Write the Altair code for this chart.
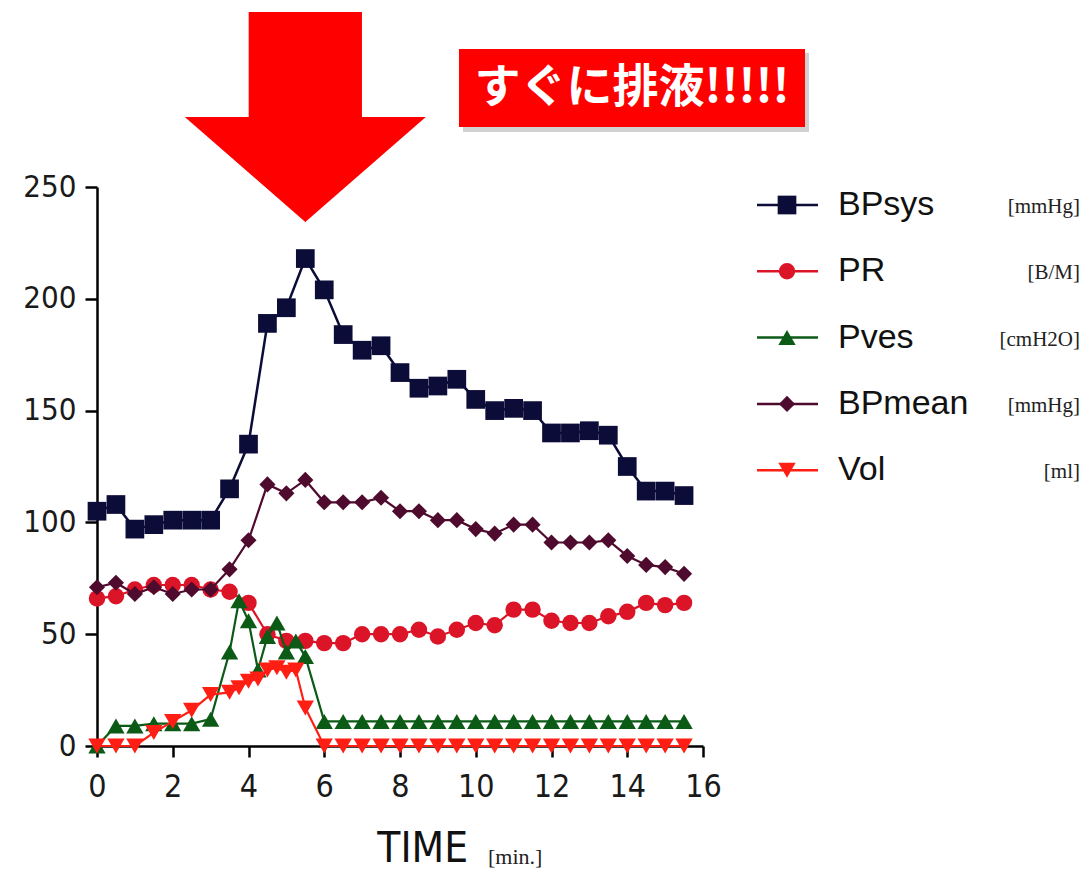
import altair as alt
import pandas as pd

# ---------------- data ----------------
series_names = ["BPsys", "PR", "Pves", "BPmean", "Vol"]
series_units = ["[mmHg]", "[B/M]", "[cmH2O]", "[mmHg]", "[ml]"]

t_half = [0, 0.5, 1, 1.5, 2, 2.5, 3, 3.5, 4, 4.5, 5, 5.5, 6, 6.5, 7, 7.5,
          8, 8.5, 9, 9.5, 10, 10.5, 11, 11.5, 12, 12.5, 13, 13.5, 14, 14.5, 15, 15.5]
t_fine = [0, 0.5, 1, 1.5, 2, 2.5, 3, 3.5, 3.75, 4, 4.25, 4.5, 4.75, 5, 5.25, 5.5,
          6, 6.5, 7, 7.5, 8, 8.5, 9, 9.5, 10, 10.5, 11, 11.5, 12, 12.5, 13, 13.5,
          14, 14.5, 15, 15.5]

bpsys = [105, 108, 97, 99, 101, 101, 101, 115, 135, 189, 196, 218, 204, 184, 177, 179,
         167, 160, 161, 164, 155, 150, 151, 150, 140, 140, 141, 139, 125, 114, 114, 112]
pr = [66, 67, 70, 72, 72, 72, 70, 69, 64, 50, 47, 47, 46, 46, 50, 50,
      50, 52, 49, 52, 55, 54, 61, 61, 56, 55, 55, 58, 60, 64, 63, 64]
pves = [0, 9, 9, 10, 10, 10, 12, 42, 65, 56, 34, 49, 55, 42, 47, 40,
        11, 11, 11, 11, 11, 11, 11, 11, 11, 11, 11, 11, 11, 11, 11, 11,
        11, 11, 11, 11]
bpmean = [71, 73, 68, 71, 68, 70, 70, 79, 92, 117, 113, 119, 109, 109, 109, 111,
          105, 105, 101, 101, 97, 95, 99, 99, 91, 91, 91, 92, 85, 81, 80, 77]
vol = [0, 0, 0, 6, 11, 16, 23, 24, 26, 29, 30, 34, 35, 33, 34, 17,
       0, 0, 0, 0, 0, 0, 0, 0, 0, 0, 0, 0, 0, 0, 0, 0,
       0, 0, 0, 0]

series_times = [t_half, t_half, t_fine, t_half, t_fine]
series_values = [bpsys, pr, pves, bpmean, vol]

x_ticks = [0, 2, 4, 6, 8, 10, 12, 14, 16]
y_ticks = [0, 50, 100, 150, 200, 250]

callout_text = "すぐに排液!!!!!"

# ---------------- styles ----------------
colors = ["#0c0c38", "#dc1428", "#0b5a16", "#4e0b2e", "#ff1e14"]
shapes = ["square", "circle", "triangle-up", "diamond", "triangle-down"]
sizes = [350, 270, 300, 260, 300]
line_widths = [2.5, 2.2, 2.2, 2.2, 2.2]

NARROW = "DejaVu Sans Condensed, Liberation Sans Narrow, Arial Narrow, sans-serif"
SANS = "Liberation Sans, Arial, sans-serif"
SERIF = "Liberation Serif, Times New Roman, serif"

rows = []
for name, times, vals in zip(series_names, series_times, series_values):
    for t, v in zip(times, vals):
        rows.append({"series": name, "time": t, "value": v})
df = pd.DataFrame(rows)

x_enc = alt.X(
    "time:Q",
    scale=alt.Scale(domain=[0, 16], nice=False, zero=False),
    axis=alt.Axis(values=x_ticks, title=None, labelFont=NARROW, labelFontSize=32,
                  labelPadding=14, tickSize=11, labelColor="#1a1a1a", format="d",
                  labelFlush=False, labelOverlap=False),
)
y_enc = alt.Y(
    "value:Q",
    scale=alt.Scale(domain=[0, 250], nice=False),
    axis=alt.Axis(values=y_ticks, title=None, labelFont=NARROW, labelFontSize=31,
                  labelPadding=9, tickSize=12, labelColor="#1a1a1a", format="d",
                  labelFlush=False, labelOverlap=False),
)

layers = []
for i, name in enumerate(series_names):
    sub = alt.Chart(df).transform_filter(alt.datum.series == name)
    layers.append(
        sub.mark_line(color=colors[i], strokeWidth=line_widths[i]).encode(x=x_enc, y=y_enc)
    )
    layers.append(
        sub.mark_point(shape=shapes[i], filled=True, size=sizes[i], color=colors[i], opacity=1)
        .encode(x=x_enc, y=y_enc)
    )

# ---------------- legend (manual) ----------------
leg_top = 18
leg_step = 66.3
for i, name in enumerate(series_names):
    yi = leg_top + leg_step * i
    ldata = alt.Data(values=[{"series": name, "unit": series_units[i]}])
    layers.append(
        alt.Chart(ldata).mark_rule(color=colors[i], strokeWidth=2.5)
        .encode(x=alt.value(660), x2=alt.value(721), y=alt.value(yi))
    )
    layers.append(
        alt.Chart(ldata).mark_point(shape=shapes[i], filled=True, size=sizes[i],
                                    color=colors[i], opacity=1)
        .encode(x=alt.value(690), y=alt.value(yi))
    )
    layers.append(
        alt.Chart(ldata).mark_text(align="left", baseline="middle", font=SANS,
                                   fontSize=34, color="#111111")
        .encode(x=alt.value(741), y=alt.value(yi), text=alt.Text("series:N"))
    )
    layers.append(
        alt.Chart(ldata).mark_text(align="right", baseline="middle", font=SERIF,
                                   fontSize=21, color="#222222")
        .encode(x=alt.value(983), y=alt.value(yi + 2), text=alt.Text("unit:N"))
    )

# ---------------- x-axis title (two fonts) ----------------
tdata = alt.Data(values=[{"t": "TIME", "u": "[min.]"}])
layers.append(
    alt.Chart(tdata).mark_text(align="right", baseline="bottom", font=NARROW,
                               fontSize=42, color="#111111")
    .encode(x=alt.value(371), y=alt.value(684), text=alt.Text("t:N"))
)
layers.append(
    alt.Chart(tdata).mark_text(align="left", baseline="bottom", font=SERIF,
                               fontSize=22, color="#222222")
    .encode(x=alt.value(391), y=alt.value(682), text=alt.Text("u:N"))
)

# ---------------- annotation: arrow pointing at BPsys peak ----------------
peak_time = t_half[bpsys.index(max(bpsys))]
arrow_path = "M-0.47,-0.871 L0.47,-0.871 L0.47,0 L1,0 L0,0.871 L-1,0 L-0.47,0 Z"
adata = alt.Data(values=[{"peak_time": peak_time}])
layers.append(
    alt.Chart(adata).mark_point(shape=arrow_path, filled=True, size=241 * 241,
                                color="#ff0000", opacity=1)
    .encode(x=alt.X("peak_time:Q"), y=alt.value(-70))
)

# callout box
bdata = alt.Data(values=[{"label": callout_text}])
layers.append(
    alt.Chart(bdata).mark_rect(color="#000000", opacity=0.18)
    .encode(x=alt.value(366), x2=alt.value(712), y=alt.value(-134), y2=alt.value(-55))
)
layers.append(
    alt.Chart(bdata).mark_rect(color="#ff0000", opacity=1)
    .encode(x=alt.value(362), x2=alt.value(708), y=alt.value(-138), y2=alt.value(-60))
)
layers.append(
    alt.Chart(bdata).mark_text(align="center", baseline="middle", font="Noto Sans CJK JP",
                               fontWeight="bold", fontSize=46, color="#ffffff")
    .encode(x=alt.value(535), y=alt.value(-99), text=alt.Text("label:N"))
)

chart = (
    alt.layer(*layers)
    .properties(
        width=606,
        height=559,
        autosize=alt.AutoSizeParams(type="none"),
        padding={"left": 89, "top": 179, "right": 378, "bottom": 127},
        background="white",
    )
    .configure_view(stroke=None)
    .configure_axis(
        grid=False,
        domainColor="#000000",
        domainWidth=2.5,
        tickColor="#000000",
        tickWidth=2.5,
    )
)

chart.save("out.html", embed_options={"renderer": "svg", "actions": False})
